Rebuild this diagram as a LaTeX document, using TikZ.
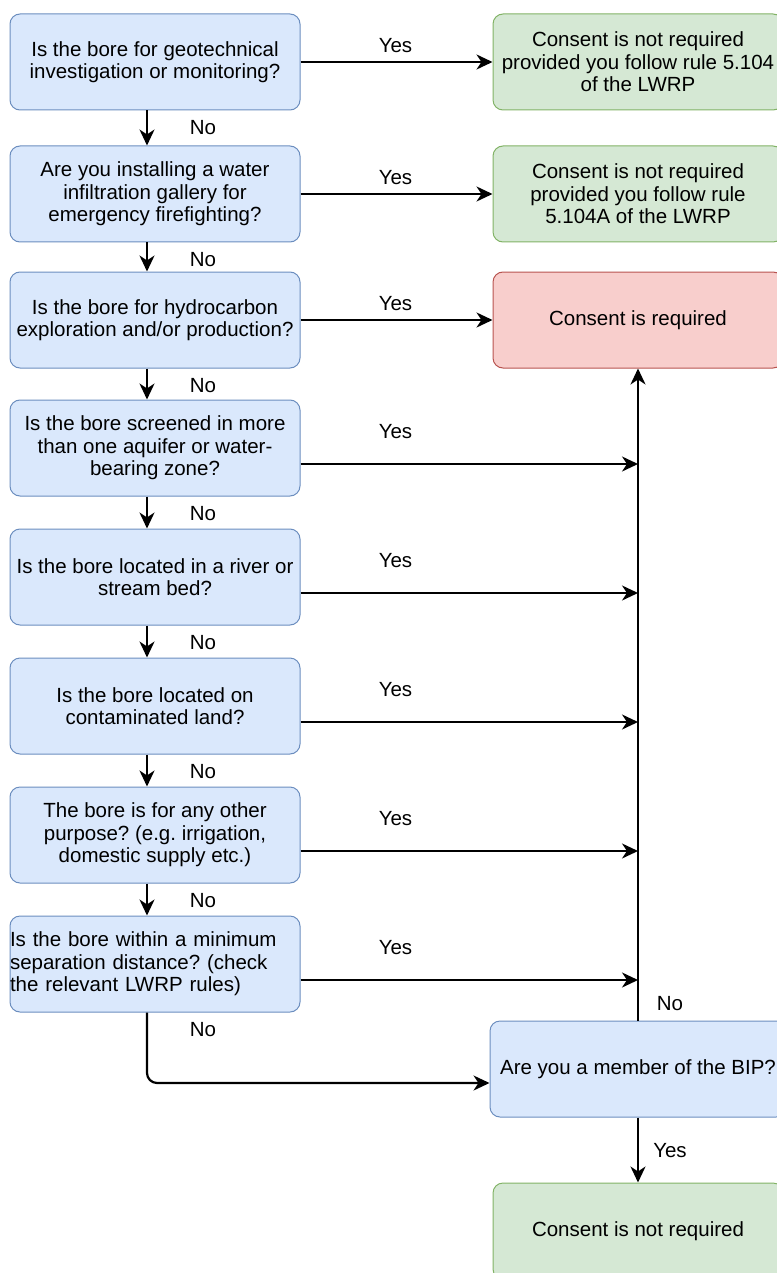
\documentclass[tikz,border=0pt]{standalone}
\usepackage{fontspec}
\setmainfont{Liberation Sans}
\usetikzlibrary{arrows.meta}
\definecolor{qfill}{HTML}{DAE8FC}
\definecolor{qline}{HTML}{6C8EBF}
\definecolor{okfill}{HTML}{D5E8D4}
\definecolor{okline}{HTML}{82B366}
\definecolor{reqfill}{HTML}{F8CECC}
\definecolor{reqline}{HTML}{B85450}
\frenchspacing
\begin{document}
\begin{tikzpicture}[x=1pt, y=-1pt, font=\fontsize{20.5}{22.5}\selectfont, line join=round, >={Stealth[length=16pt,width=15pt,inset=5pt]},
    boxed/.style={draw, line width=1pt, rounded corners=10pt, minimum width=290pt, minimum height=96pt, inner sep=0pt, align=center},
    qbox/.style={boxed, fill=qfill, draw=qline}, okbox/.style={boxed, fill=okfill, draw=okline}, reqbox/.style={boxed, fill=reqfill, draw=reqline},
    flow/.style={->, line width=2.2pt}]
            \useasboundingbox (0,0) rectangle (776,1273) ;
            \node[qbox] (q1) at (155,62) {Is the bore for geotechnical\\investigation or monitoring?} ;
            \node[qbox] (q2) at (155,194) {Are you installing a water\\infiltration gallery for\\emergency firefighting?} ;
            \node[qbox] (q3) at (155,320) {Is the bore for hydrocarbon\\exploration and/or production?} ;
            \node[qbox] (q4) at (155,448) {Is the bore screened in more\\than one aquifer or water-\\bearing zone?} ;
            \node[qbox] (q5) at (155,577) {Is the bore located in a river or\\stream bed?} ;
            \node[qbox] (q6) at (155,706) {Is the bore located on\\contaminated land?} ;
            \node[qbox] (q7) at (155,835) {The bore is for any other\\purpose? (e.g. irrigation,\\domestic supply etc.)} ;
            \node[qbox, text width=290pt, align=left] (q8) at (155,964) {Is the bore within a minimum\\separation distance? (check\\the relevant LWRP rules)} ;
            \node[okbox] (ok1) at (638,62) {Consent is not required\\provided you follow rule 5.104\\of the LWRP} ;
            \node[okbox] (ok2) at (638,194) {Consent is not required\\provided you follow rule\\5.104A of the LWRP} ;
            \node[reqbox] (req) at (638,320) {Consent is required} ;
            \node[qbox, minimum width=296pt] (bip) at (638,1069) {Are you a member of the BIP?} ;
            \node[okbox] (ok3) at (638,1231) {Consent is not required} ;
            % yes branches
            \draw[flow] (q1) -- (ok1) ;
            \draw[flow] (q2) -- (ok2) ;
            \draw[flow] (q3) -- (req) ;
            \foreach \i in {4,...,8} \draw[flow] ([yshift=-16pt]q\i.east) -- ([yshift=-16pt]q\i.east -| req.south) ;
            \foreach \i in {1,...,8} \node at ([xshift=95pt,yshift=16pt]q\i.east) {Yes} ;
            % no branches
            \foreach \i [evaluate=\i as \j using int(\i+1)] in {1,...,7} \draw[flow] ([xshift=-8pt]q\i.south) -- ([xshift=-8pt]q\j.north) ;
            \foreach \i in {1,...,8} \node at ([xshift=48pt,yshift=-17pt]q\i.south) {No} ;
            \draw[flow, rounded corners=10pt] ([xshift=-8pt]q8.south) |- ([yshift=-14pt]bip.west) ;
            \draw[flow] (bip) -- (req) ;
            \draw[flow] (bip) -- (ok3) ;
            \node at ([xshift=32pt,yshift=17pt]bip.north) {No} ;
            \node at ([xshift=32pt,yshift=-33pt]bip.south) {Yes} ;
        \end{tikzpicture}
\end{document}
